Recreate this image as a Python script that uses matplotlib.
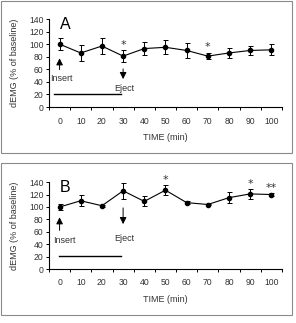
import matplotlib
matplotlib.use("Agg")
import matplotlib.pyplot as plt
from matplotlib.patches import Rectangle

plt.rcParams['font.family'] = ['Liberation Sans', 'DejaVu Sans']

time_min = [0, 10, 20, 30, 40, 50, 60, 70, 80, 90, 100]

# panel A
a_mean = [100, 86, 97, 81, 93, 95, 90, 81, 86, 90, 91]
a_err = [10, 13, 13, 9, 10, 11, 12, 5, 8, 7, 9]
a_stars = {30: "*", 70: "*"}

# panel B
b_mean = [100, 110, 102, 126, 109, 127, 107, 104, 115, 121, 120]
b_err = [5, 9, 2, 13, 8, 8, 2, 1.5, 9, 7.5, 2]
b_stars = {50: "*", 90: "*", 100: "**"}

txt = '#333333'
fig = plt.figure(figsize=(2.96, 3.23), dpi=100)

# grey frames round each panel
for bot in [0.5272, 0.0257]:
    fig.add_artist(Rectangle((1/296, bot), 291/296, 0.4697, transform=fig.transFigure,
                             fill=False, ec='#8a8a8a', lw=0.8))


def panel(rect, mean, err, stars, letter, ins, ej, bar, xlab_y, tick_pad):
    ax = fig.add_axes(rect)
    ax.errorbar(time_min, mean, yerr=err, fmt='-o', color='black', ms=3.0,
                lw=0.8, elinewidth=0.7, capsize=1.8, capthick=0.7)
    for t, s in stars.items():
        i = time_min.index(t)
        ax.text(t, mean[i] + err[i] + 9, s, ha='center', va='center',
                fontsize=8, color=txt, clip_on=False, family='DejaVu Sans')
    ax.set_xlim(-5, 105)
    ax.set_ylim(0, 140)
    ax.set_yticks(range(0, 141, 20))
    ax.set_xticks(time_min)
    ax.set_xticks(range(-5, 106, 10), minor=True)
    ax.tick_params(axis='x', which='major', length=0, pad=tick_pad, labelsize=6.2, labelcolor=txt)
    ax.tick_params(axis='x', which='minor', length=2.5, width=0.7, direction='out')
    ax.tick_params(axis='y', length=2.5, width=0.7, pad=1.5, labelsize=6.2, labelcolor=txt)
    for s in ['top', 'right']:
        ax.spines[s].set_visible(False)
    for s in ['left', 'bottom']:
        ax.spines[s].set_linewidth(0.8)
    ax.set_xlabel("TIME (min)", fontsize=6.5, color=txt)
    ax.xaxis.set_label_coords(0.5, xlab_y)
    ax.set_ylabel("dEMG (% of baseline)", fontsize=6.5, color=txt)
    ax.yaxis.set_label_coords(-0.13, 0.5)
    ax.text(0.3, 131, letter, fontsize=11.5, ha='left', va='center')

    # insert / eject markers and bar
    ax.annotate("", xy=(0, ins[1]), xytext=(0, ins[0]),
                arrowprops=dict(arrowstyle='-|>', color='black', lw=0.7, mutation_scale=10))
    ax.text(ins[2], ins[3], "Insert", fontsize=6.5, color=txt, ha='left', va='center')
    ax.annotate("", xy=(30, ej[1]), xytext=(30, ej[0]),
                arrowprops=dict(arrowstyle='-|>', color='black', lw=0.7, mutation_scale=10))
    ax.text(30.5, ej[2], "Eject", fontsize=6.5, color=txt, ha='center', va='center')
    ax.plot([bar[0], bar[1]], [bar[2], bar[2]], color='black', lw=1.0)
    return ax


panel([0.1655, 0.6687, 0.787, 0.2724], a_mean, a_err, a_stars, "A",
      (55, 82, -4.3, 46), (65, 40, 30), (-2.5, 29, 20), -0.30, 7)
panel([0.1655, 0.1663, 0.787, 0.270], b_mean, b_err, b_stars, "B",
      (58, 88, -3, 46), (103, 68, 50), (-0.5, 29, 22), -0.29, 6)

fig.savefig("out.png", dpi=100)
